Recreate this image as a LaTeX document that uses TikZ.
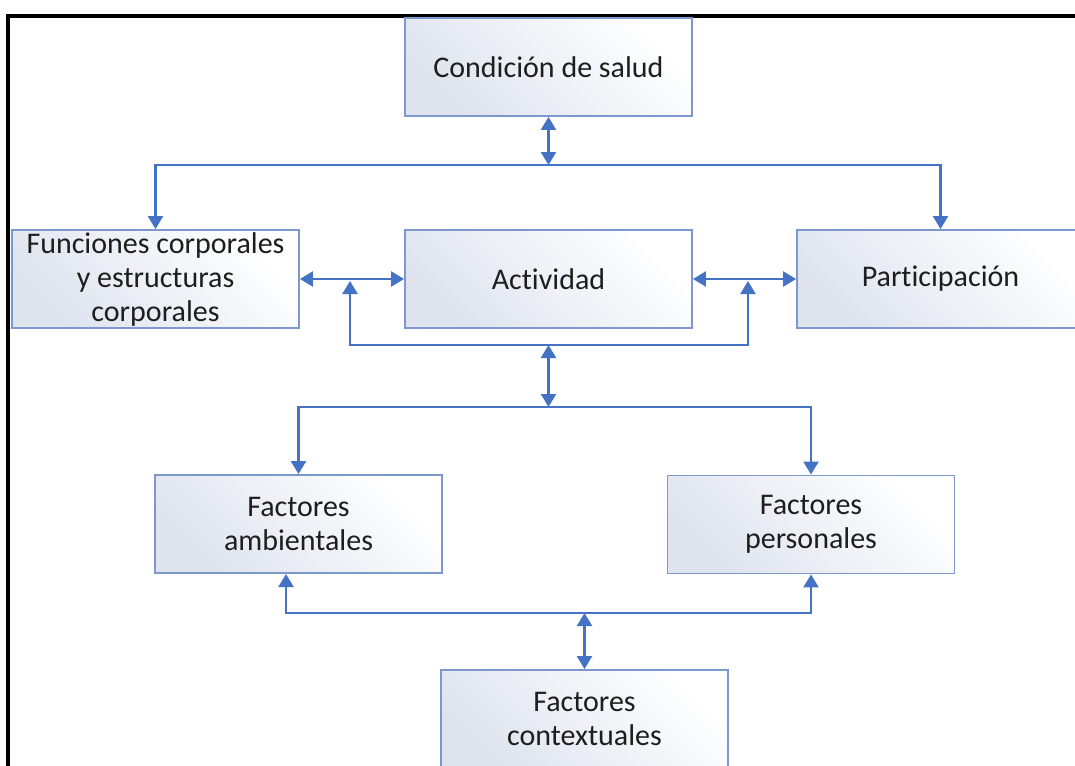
\documentclass[tikz,border=0pt]{standalone}
\usepackage{fontspec}
\setmainfont{Carlito}[Ligatures={NoCommon,NoContextual}]
\usetikzlibrary{arrows.meta}
\definecolor{boxline}{RGB}{125,152,204}
\definecolor{boxshade}{RGB}{222,227,238}
\definecolor{link}{RGB}{68,114,196}
\definecolor{ink}{RGB}{30,30,30}
\tikzset{
  stepbox/.style={draw=boxline, line width=1.9pt, left color=boxshade, right color=white,
    shading angle=135, minimum width=287pt, minimum height=98pt, inner sep=0pt,
    align=center, text=ink, font=\fontsize{30}{34}\selectfont},
  link/.style={draw=link, line width=2.4pt, -{Triangle[width=15pt,length=13pt]}},
  dlink/.style={link, {Triangle[width=15pt,length=13pt]}-{Triangle[width=15pt,length=13pt]}}
}
\begin{document}
\begin{tikzpicture}[x=1pt,y=-1pt]
\useasboundingbox (0,0) rectangle (1075,765);
\clip (0,0) rectangle (1075,765);
\fill[white] (0,0) rectangle (1075,765);

% outer frame
\draw[black, line width=3.5pt] (8,780) -- (8,16) -- (1090,16);

% boxes
\node[stepbox] (cond) at (548.5,67) {Condición de salud};
\node[stepbox] (func) at (155.5,279) {Funciones corporales\\y estructuras\\corporales};
\node[stepbox] (act) at (548.5,279) {Actividad};
\node[stepbox] (part) at (940.5,279) {Participación};
\node[stepbox] (amb) at (298.5,524) {Factores\\ambientales};
\node[stepbox] (pers) at (811,524.5) {Factores\\personales};
\node[stepbox] (ctx) at (584.5,719) {Factores\\contextuales};

% junction points of the connector network
\coordinate (busA) at (548.5,165);
\coordinate (busB) at (548.5,345);
\coordinate (busC) at (548.5,407);
\coordinate (busD) at (584.5,613);
\coordinate (jL) at (350,281);
\coordinate (jR) at (748,281);
\coordinate (ambIn) at (286,574);

% health condition to the top bus
\draw[dlink] (cond.south) -- (busA);
\draw[link] (busA) -| (func.north);
\draw[link] (busA) -| (part.north);

% middle row
\draw[dlink] (func.east) -- (act.west);
\draw[dlink] (act.east) -- (part.west);
\draw[link] (busB) -| (jL);
\draw[link] (busB) -| (jR);
\draw[dlink] (busB) -- (busC);

% factors
\draw[link] (busC) -| (amb.north);
\draw[link] (busC) -| (pers.north);
\draw[link] (busD) -| (ambIn);
\draw[link] (busD) -| (pers.south);
\draw[dlink] (busD) -- (ctx.north);
\end{tikzpicture}
\end{document}
